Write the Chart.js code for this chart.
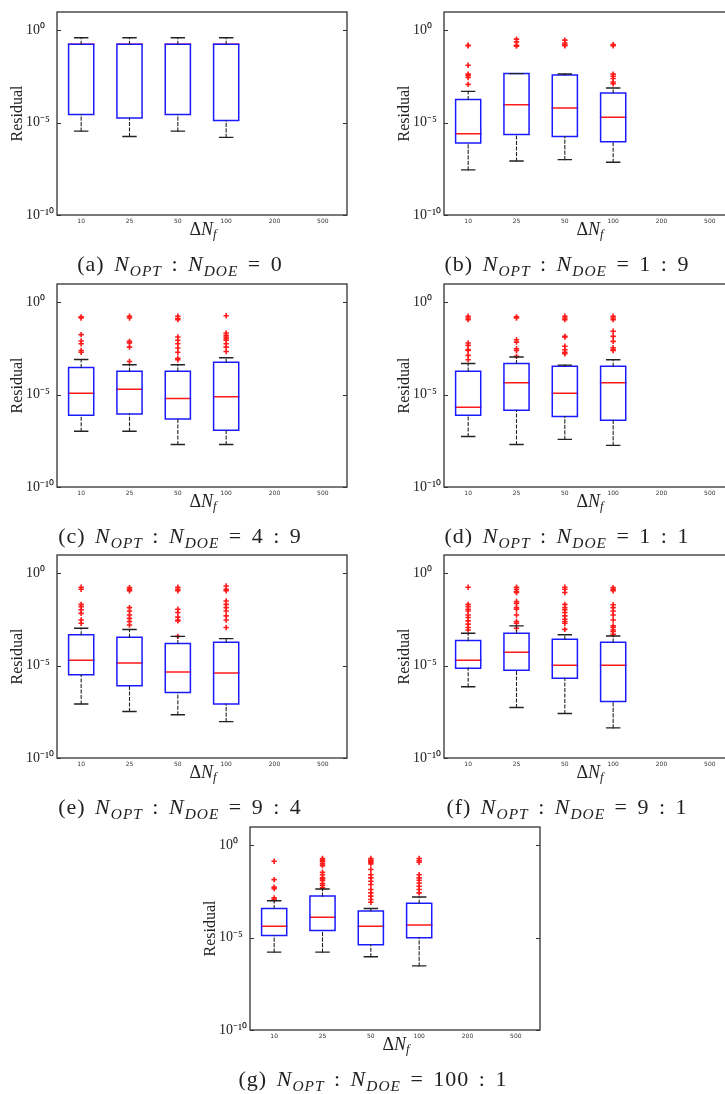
<!DOCTYPE html>
<html>
<head>
<meta charset="utf-8">
<script src="https://cdn.jsdelivr.net/npm/chart.js@4/dist/chart.umd.min.js"></script>
<style>
  html, body { margin: 0; padding: 0; background: #fff; }
  body { position: relative; width: 725px; height: 1094px; overflow: hidden; }
  canvas { position: absolute; }
  .xt, .cap { position: absolute; font-family: 'Liberation Serif', 'DejaVu Serif', serif; color: #222; white-space: nowrap; transform: translate(-50%, -50%); }
  .xt { font-size: 18px; }
  .cap { font-size: 22px; letter-spacing: 1px; word-spacing: 3px; }
  sub { font-size: 70%; vertical-align: -0.3em; line-height: 0; }
</style>
</head>
<body>
<script>
// ---------- data ----------
const categories = ['10', '25', '50', '100', '200', '500'];
const yTickValues = [1e-10, 1e-5, 1];
const yTickLabels = ['10⁻¹⁰', '10⁻⁵', '10⁰'];

// (a) N_OPT : N_DOE = 0
const q1_a  = [2.8e-5, 1.8e-5, 2.8e-5, 1.3e-5];
const med_a = [0.18, 0.18, 0.18, 0.18];
const q3_a  = [0.18, 0.18, 0.18, 0.18];
const lo_a  = [3.5e-6, 1.8e-6, 3.5e-6, 1.6e-6];
const hi_a  = [0.4, 0.4, 0.4, 0.4];
const out_a = [[], [], [], []];

// (b) 1 : 9
const q1_b  = [7.9e-7, 2.3e-6, 1.8e-6, 9.3e-7];
const med_b = [2.5e-6, 9.5e-5, 6.3e-5, 2.0e-5];
const q3_b  = [1.8e-4, 4.6e-3, 3.9e-3, 4.1e-4];
const lo_b  = [2.8e-8, 8.5e-8, 1.0e-7, 7.2e-8];
const hi_b  = [5.0e-4, 4.6e-3, 4.4e-3, 7.6e-4];
const out_b = [
  [0.158, 0.148, 1.3e-2, 4.3e-3, 3.5e-3, 2.8e-3, 1.2e-3],
  [0.34, 0.24, 0.158, 0.141],
  [0.30, 0.21, 0.17, 0.148],
  [0.17, 0.148, 4.3e-3, 3.3e-3, 2.5e-3, 1.6e-3, 1.3e-3]
];

// (c) 4 : 9
const q1_c  = [7.8e-7, 8.9e-7, 4.9e-7, 1.2e-7];
const med_c = [1.2e-5, 1.95e-5, 6.3e-6, 7.8e-6];
const q3_c  = [3.0e-4, 1.9e-4, 1.9e-4, 5.8e-4];
const lo_c  = [1.05e-7, 1.05e-7, 2.0e-8, 2.0e-8];
const hi_c  = [8.1e-4, 4.2e-4, 4.2e-4, 1.0e-3];
const out_c = [
  [0.166, 0.145, 1.8e-2, 8.1e-3, 5.8e-3, 2.5e-3, 2.0e-3],
  [0.178, 0.145, 7.8e-3, 6.3e-3, 3.8e-3, 6.3e-4],
  [0.178, 0.135, 0.118, 1.35e-2, 8.9e-3, 5.8e-3, 3.4e-3, 2.0e-3, 9.5e-4, 7.8e-4],
  [0.19, 2.2e-2, 1.65e-2, 1.35e-2, 1.1e-2, 8.9e-3, 5.8e-3, 3.8e-3, 2.2e-3]
];

// (d) 1 : 1
const q1_d  = [7.8e-7, 1.45e-6, 6.6e-7, 4.2e-7];
const med_d = [2.1e-6, 4.4e-5, 1.2e-5, 4.4e-5];
const q3_d  = [1.9e-4, 4.9e-4, 3.5e-4, 3.5e-4];
const lo_d  = [5.4e-8, 2.0e-8, 3.8e-8, 1.8e-8];
const hi_d  = [4.9e-4, 1.1e-3, 4.0e-4, 7.8e-4];
const out_d = [
  [0.178, 0.145, 0.118, 6.3e-3, 4.7e-3, 2.8e-3, 2.5e-3, 1.35e-3, 7.8e-4],
  [0.166, 0.145, 9.5e-3, 7.1e-3, 3.1e-3, 2.5e-3, 1.2e-3],
  [0.178, 0.145, 0.118, 1.45e-2, 1.35e-2, 4.2e-3, 2.75e-3, 2.0e-3, 1.65e-3],
  [0.178, 0.145, 0.118, 2.75e-2, 1.45e-2, 7.8e-3, 3.5e-3, 2.8e-3, 2.5e-3]
];

// (e) 9 : 4
const q1_e  = [3.2e-6, 8.1e-7, 3.5e-7, 8.5e-8];
const med_e = [1.95e-5, 1.4e-5, 4.6e-6, 4.0e-6];
const q3_e  = [4.8e-4, 3.5e-4, 1.6e-4, 1.9e-4];
const lo_e  = [8.5e-8, 3.3e-8, 2.2e-8, 9.3e-9];
const hi_e  = [1.07e-3, 9.1e-4, 3.9e-4, 2.95e-4];
const out_e = [
  [0.18, 0.14, 2.1e-2, 1.6e-2, 1.07e-2, 6.9e-3, 3.0e-3, 2.0e-3],
  [0.17, 0.14, 0.115, 1.4e-2, 9.3e-3, 5.6e-3, 3.7e-3, 2.5e-3, 1.6e-3],
  [0.18, 0.14, 0.115, 1.15e-2, 7.6e-3, 4.3e-3, 3.0e-3, 2.7e-3, 3.9e-4],
  [0.21, 0.14, 0.115, 3.2e-2, 2.1e-2, 1.4e-2, 9.3e-3, 5.0e-3, 3.0e-3, 1.17e-3]
];

// (f) 9 : 1
const q1_f  = [7.4e-6, 5.6e-6, 2.1e-6, 1.15e-7];
const med_f = [2.0e-5, 5.3e-5, 1.05e-5, 1.05e-5];
const q3_f  = [2.3e-4, 5.7e-4, 2.7e-4, 1.9e-4];
const lo_f  = [7.2e-7, 5.5e-8, 2.6e-8, 4.3e-9];
const hi_f  = [5.7e-4, 1.45e-3, 4.8e-4, 4.1e-4];
const out_f = [
  [0.18, 2.1e-2, 1.6e-2, 1.15e-2, 9.3e-3, 5.6e-3, 4.1e-3, 2.7e-3, 1.8e-3, 1.17e-3, 8.7e-4],
  [0.18, 0.14, 0.105, 9.3e-2, 3.0e-2, 2.4e-2, 1.4e-2, 1.15e-2, 5.6e-3, 2.5e-3, 2.0e-3, 1.07e-3],
  [0.18, 0.14, 9.3e-2, 2.1e-2, 1.4e-2, 1.07e-2, 7.6e-3, 5.0e-3, 3.3e-3, 2.5e-3, 2.0e-3, 9.3e-4],
  [0.17, 0.14, 0.115, 2.0e-2, 1.4e-2, 9.3e-3, 5.6e-3, 3.0e-3, 1.45e-3, 1.17e-3, 8.7e-4, 7.1e-4, 5.0e-4]
];

// (g) 100 : 1
const q1_g  = [1.3e-5, 2.5e-5, 4.2e-6, 1.0e-5];
const med_g = [4.2e-5, 1.3e-4, 4.2e-5, 4.9e-5];
const q3_g  = [3.8e-4, 1.8e-3, 2.8e-4, 7.4e-4];
const lo_g  = [1.65e-6, 1.65e-6, 9.3e-7, 3.0e-7];
const hi_g  = [1.0e-3, 4.4e-3, 3.8e-4, 1.6e-3];
const out_g = [
  [0.14, 1.4e-2, 5.5e-3, 4.6e-3, 1.45e-3, 1.17e-3],
  [0.195, 0.16, 0.13, 0.1, 8.1e-2, 3.5e-2, 2.6e-2, 1.75e-2, 1.55e-2, 1.26e-2, 8.5e-3, 6.7e-3, 5.0e-3],
  [0.195, 0.16, 0.14, 0.123, 0.1, 5.0e-2, 2.6e-2, 1.75e-2, 1.15e-2, 7.6e-3, 4.1e-3, 2.7e-3, 1.8e-3, 1.17e-3, 8.3e-4],
  [0.195, 0.15, 0.123, 2.6e-2, 1.75e-2, 1.3e-2, 9.3e-3, 6.2e-3, 4.1e-3, 2.7e-3]
];

const captions = {
  a: '(a) <i>N</i><sub><i>OPT</i></sub> : <i>N</i><sub><i>DOE</i></sub> = 0',
  b: '(b) <i>N</i><sub><i>OPT</i></sub> : <i>N</i><sub><i>DOE</i></sub> = 1 : 9',
  c: '(c) <i>N</i><sub><i>OPT</i></sub> : <i>N</i><sub><i>DOE</i></sub> = 4 : 9',
  d: '(d) <i>N</i><sub><i>OPT</i></sub> : <i>N</i><sub><i>DOE</i></sub> = 1 : 1',
  e: '(e) <i>N</i><sub><i>OPT</i></sub> : <i>N</i><sub><i>DOE</i></sub> = 9 : 4',
  f: '(f) <i>N</i><sub><i>OPT</i></sub> : <i>N</i><sub><i>DOE</i></sub> = 9 : 1',
  g: '(g) <i>N</i><sub><i>OPT</i></sub> : <i>N</i><sub><i>DOE</i></sub> = 100 : 1'
};

// ---------- layout (plot-area top-left corners) ----------
const panels = [
  { id: 'a', L: 57,  T: 12,  d: [q1_a, med_a, q3_a, lo_a, hi_a, out_a] },
  { id: 'b', L: 444, T: 12,  d: [q1_b, med_b, q3_b, lo_b, hi_b, out_b] },
  { id: 'c', L: 57,  T: 284, d: [q1_c, med_c, q3_c, lo_c, hi_c, out_c] },
  { id: 'd', L: 444, T: 284, d: [q1_d, med_d, q3_d, lo_d, hi_d, out_d] },
  { id: 'e', L: 57,  T: 555, d: [q1_e, med_e, q3_e, lo_e, hi_e, out_e] },
  { id: 'f', L: 444, T: 555, d: [q1_f, med_f, q3_f, lo_f, hi_f, out_f] },
  { id: 'g', L: 250, T: 827, d: [q1_g, med_g, q3_g, lo_g, hi_g, out_g] }
];

const AXIS_W = 57, PLOT_W = 290, PLOT_H = 203, PAD_R = 15, XAX_H = 16;
const BOX_HALF = 0.26, CAP_HALF = 0.135;
const BLUE = '#1a1aff', RED = '#ff1a1a', INK = '#222';

function buildDatasets(q1, med, q3, lo, hi, out) {
  const box = [], mid = [], whisk = [], caps = [], outs = [];
  q1.forEach((v, i) => {
    box.push({x: i - BOX_HALF, y: v}, {x: i + BOX_HALF, y: v}, {x: i + BOX_HALF, y: q3[i]},
             {x: i - BOX_HALF, y: q3[i]}, {x: i - BOX_HALF, y: v}, {x: i, y: null});
    mid.push({x: i - BOX_HALF, y: med[i]}, {x: i + BOX_HALF, y: med[i]}, {x: i, y: null});
    whisk.push({x: i, y: q3[i]}, {x: i, y: hi[i]}, {x: i, y: null},
               {x: i, y: lo[i]}, {x: i, y: v}, {x: i, y: null});
    caps.push({x: i - CAP_HALF, y: hi[i]}, {x: i + CAP_HALF, y: hi[i]}, {x: i, y: null},
              {x: i - CAP_HALF, y: lo[i]}, {x: i + CAP_HALF, y: lo[i]}, {x: i, y: null});
    out[i].forEach(o => outs.push({x: i, y: o}));
  });
  const line = (data, color, w, dash) => ({
    data, showLine: true, spanGaps: false, borderColor: color, borderWidth: w,
    borderDash: dash || [], pointRadius: 0, borderCapStyle: 'square', borderJoinStyle: 'miter',
    backgroundColor: 'transparent', fill: false
  });
  return [
    line(whisk, INK, 1.1, [3, 2.5]),
    line(caps, INK, 1.4),
    line(box, BLUE, 1.5),
    line(mid, RED, 1.5),
    { data: outs, showLine: false, pointStyle: 'cross', pointRadius: 2.7, borderColor: RED,
      borderWidth: 1.6, backgroundColor: RED }
  ];
}

const framePlugin = {
  id: 'frame',
  afterDatasetsDraw(chart) {
    const {ctx, chartArea: a, scales: {y}} = chart;
    ctx.save();
    ctx.strokeStyle = '#333';
    ctx.lineWidth = 1.3;
    ctx.strokeRect(a.left, a.top, a.right - a.left, a.bottom - a.top);
    ctx.lineWidth = 1.1;
    y.ticks.forEach(t => {
      const py = Math.round(y.getPixelForValue(t.value)) + 0.5;
      ctx.beginPath();
      ctx.moveTo(a.left, py); ctx.lineTo(a.left + 4, py);
      ctx.moveTo(a.right - 4, py); ctx.lineTo(a.right, py);
      ctx.stroke();
    });
    ctx.restore();
  }
};

panels.forEach(p => {
  const cv = document.createElement('canvas');
  const W = AXIS_W + PLOT_W + PAD_R, H = 12 + PLOT_H + XAX_H;
  cv.width = W; cv.height = H;
  cv.style.width = W + 'px'; cv.style.height = H + 'px';
  cv.style.left = (p.L - AXIS_W) + 'px';
  cv.style.top = (p.T - 12) + 'px';
  document.body.appendChild(cv);

  new Chart(cv, {
    type: 'scatter',
    data: { datasets: buildDatasets(...p.d) },
    options: {
      responsive: false, animation: false, devicePixelRatio: 1,
      layout: { padding: { left: 0, top: 12, right: PAD_R, bottom: 0 } },
      plugins: {
        legend: { display: false }, tooltip: { enabled: false },
        title: {
          display: true, text: 'Residual', position: 'left', fullSize: false,
          color: INK, font: { family: 'Liberation Serif', size: 16, weight: 'normal', lineHeight: 1 },
          padding: { top: 10, bottom: 0 }
        }
      },
      scales: {
        x: {
          type: 'linear', position: 'bottom', min: -0.5, max: 5.5,
          afterBuildTicks: s => { s.ticks = categories.map((c, i) => ({ value: i })); },
          afterFit: s => { s.height = XAX_H; },
          grid: { display: false, drawTicks: false }, border: { display: false },
          ticks: { callback: v => categories[v], color: '#333', padding: 3, maxRotation: 0,
                   autoSkip: false, font: { family: 'DejaVu Sans', size: 6 } }
        },
        y: {
          type: 'logarithmic', position: 'left', min: 1e-10, max: 10,
          afterBuildTicks: s => { s.ticks = yTickValues.map(v => ({ value: v })); },
          afterFit: s => { s.width = 31; },
          grid: { display: false, drawTicks: false }, border: { display: false },
          ticks: { callback: v => yTickLabels[yTickValues.indexOf(v)], color: INK, crossAlign: 'far',
                   padding: 0, font: { family: 'Liberation Serif', size: 14 } }
        }
      }
    },
    plugins: [framePlugin]
  });

  const xt = document.createElement('div');
  xt.className = 'xt';
  xt.innerHTML = 'Δ<i>N</i><sub><i>f</i></sub>';
  xt.style.left = (p.L + 146) + 'px';
  xt.style.top = (p.T + 217) + 'px';
  document.body.appendChild(xt);

  const cap = document.createElement('div');
  cap.className = 'cap';
  cap.innerHTML = captions[p.id];
  cap.style.left = (p.L + 123) + 'px';
  cap.style.top = (p.T + 252) + 'px';
  document.body.appendChild(cap);
});
</script>
</body>
</html>
